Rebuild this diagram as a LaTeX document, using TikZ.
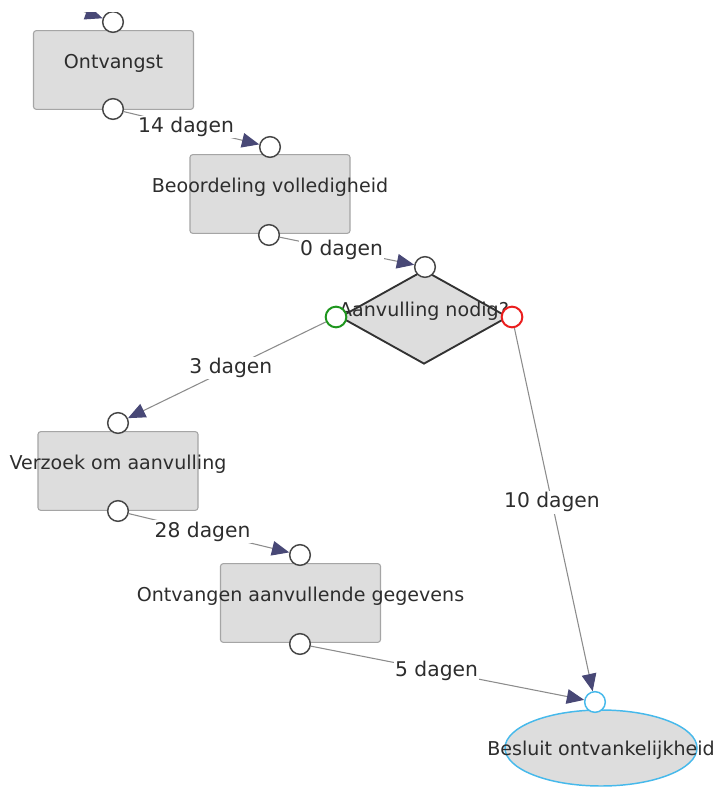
\documentclass[tikz,border=0pt]{standalone}
\usepackage{fontspec}
\setmainfont{DejaVu Sans}
\usetikzlibrary{arrows.meta,shapes.geometric}
\definecolor{box_fill}{RGB}{221,221,221}
\definecolor{box_edge}{RGB}{165,165,165}
\definecolor{dia_edge}{RGB}{50,50,50}
\definecolor{port_edge}{RGB}{70,70,70}
\definecolor{port_green}{RGB}{30,150,30}
\definecolor{port_red}{RGB}{235,30,30}
\definecolor{port_blue}{RGB}{70,185,235}
\definecolor{edge_gray}{RGB}{140,140,140}
\definecolor{tip_navy}{RGB}{72,72,118}
\definecolor{text_gray}{RGB}{45,45,45}

\begin{document}
\begin{tikzpicture}[x=0.75pt,y=-0.75pt]
    \tikzstyle{task}=[draw=box_edge, fill=box_fill, rounded corners=2pt, minimum width=120pt, minimum height=59pt, inner sep=0pt, line width=0.8pt]
    \tikzstyle{choice}=[diamond, draw=dia_edge, fill=box_fill, minimum width=126pt, minimum height=70.5pt, inner sep=0pt, line width=1.4pt]
    \tikzstyle{finish}=[ellipse, draw=port_blue, fill=box_fill, minimum width=144pt, minimum height=57pt, inner sep=0pt, line width=1.1pt]
    \tikzstyle{txt}=[text=text_gray, font=\fontsize{14.3}{16}\selectfont, inner sep=0pt, yshift=5pt]
    \tikzstyle{port}=[draw=port_edge, circle, fill=white, minimum size=15.5pt, inner sep=0pt, line width=1.1pt]
    \tikzstyle{flow}=[draw=edge_gray, line width=0.8pt, -{Triangle[length=13pt,width=11pt,color=tip_navy,fill=tip_navy]}]
    \tikzstyle{lbl}=[fill=white, text=text_gray, font=\fontsize{15.2}{17}\selectfont, inner sep=1pt, pos=0.46]

    \useasboundingbox (0,0) rectangle (720,787);
    \clip (0,12.5) rectangle (720,787);

    % taken steps
    \node[task] (ontv)   at (113.5,70)  [label={[txt]center:Ontvangst}] {};
    \node[task] (beoord) at (270,194)   [label={[txt]center:Beoordeling volledigheid}] {};
    \node[choice] (nodig) at (424,317)  [label={[txt, yshift=-1pt]center:Aanvulling nodig?}] {};
    \node[task] (verzoek) at (118,471)  [label={[txt]center:Verzoek om aanvulling}] {};
    \node[task] (gegev)  at (300.5,603) [label={[txt]center:Ontvangen aanvullende gegevens}] {};
    \node[finish] (besluit) at (601,748) [label={[txt, yshift=-7pt]center:Besluit ontvankelijkheid}] {};

    % ports
    \node[port] (ontv_in)     at (113,22)  {};
    \node[port] (ontv_out)    at (113,109) {};
    \node[port] (beoord_in)   at (270,147) {};
    \node[port] (beoord_out)  at (269,235) {};
    \node[port] (nodig_in)    at (425,267) {};
    \node[port, draw=port_green, line width=1.5pt] (nodig_ja)  at (336,317) {};
    \node[port, draw=port_red, line width=1.5pt]   (nodig_nee) at (512,317) {};
    \node[port] (verzoek_in)  at (118,423) {};
    \node[port] (verzoek_out) at (118,511) {};
    \node[port] (gegev_in)    at (300,555) {};
    \node[port] (gegev_out)   at (300,644) {};
    \node[port, draw=port_blue] (besluit_in) at (595,702) {};
    \coordinate (ontv_src) at (-60,-40);

    \path
     (ontv_src)    edge[flow] (ontv_in)
     (ontv_out)    edge[flow] node[lbl] {14 dagen} (beoord_in)
     (beoord_out)  edge[flow] node[lbl] {0 dagen} (nodig_in)
     (nodig_ja)    edge[flow] node[lbl, pos=0.48] {3 dagen} (verzoek_in)
     (verzoek_out) edge[flow] node[lbl] {28 dagen} (gegev_in)
     (nodig_nee)   edge[flow] node[lbl, pos=0.48] {10 dagen} (besluit_in)
     (gegev_out)   edge[flow] node[lbl] {5 dagen} (besluit_in)
     ;
\end{tikzpicture}
\end{document}
